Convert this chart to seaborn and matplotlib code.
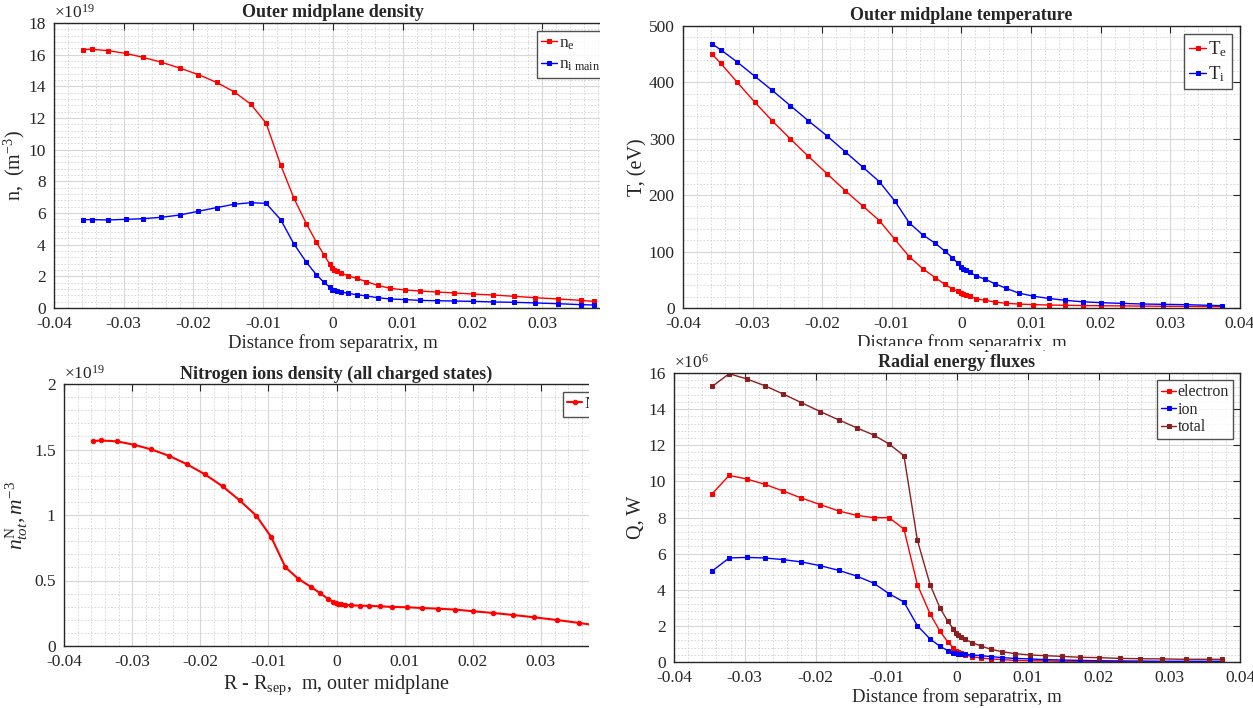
import numpy as np
import pandas as pd
import matplotlib
matplotlib.use("Agg")
import matplotlib.pyplot as plt
import matplotlib.ticker as mticker
from matplotlib.patches import Rectangle
import seaborn as sns

# ---- data ----
# common radial grid, distance from separatrix [m]
dist = [-0.0358, -0.0346, -0.0322, -0.0297, -0.0272, -0.0246, -0.0220, -0.0193,
        -0.0167, -0.0142, -0.0118, -0.0096, -0.0075, -0.0056, -0.0038, -0.0024,
        -0.0013, -0.0005, -0.0001, 0.0002, 0.0006, 0.0012, 0.0021, 0.0034,
        0.0048, 0.0064, 0.0082, 0.0103, 0.0125, 0.0149, 0.0174, 0.0201,
        0.0230, 0.0259, 0.0290, 0.0323, 0.0356, 0.0374]

# outer midplane density, x1e19 m^-3
ne = [16.32, 16.34, 16.25, 16.08, 15.83, 15.52, 15.16, 14.74, 14.25, 13.66,
      12.88, 11.68, 9.03, 6.93, 5.31, 4.17, 3.35, 2.80, 2.51, 2.40, 2.32, 2.21,
      2.04, 1.87, 1.66, 1.43, 1.24, 1.14, 1.07, 1.01, 0.95, 0.88, 0.82, 0.74,
      0.65, 0.57, 0.48, 0.42]
ni_main = [5.58, 5.58, 5.56, 5.60, 5.64, 5.73, 5.87, 6.11, 6.34, 6.55, 6.65,
           6.61, 5.58, 4.04, 2.88, 2.11, 1.62, 1.33, 1.16, 1.12, 1.07, 1.01,
           0.93, 0.84, 0.76, 0.65, 0.57, 0.53, 0.48, 0.46, 0.44, 0.42, 0.38,
           0.36, 0.32, 0.27, 0.21, 0.19]

# outer midplane temperature, eV
Te = [450, 434, 400, 365, 332, 300, 269, 238, 208, 181, 155, 122, 91, 70, 54,
      42, 34, 29.5, 27, 25, 23.6, 20.7, 16.5, 13.6, 10.6, 8.3, 7.0, 6.0, 5.3,
      4.8, 4.3, 4.0, 3.7, 3.4, 3.1, 2.8, 2.5, 2.3]
Ti = [468, 458, 436, 411, 386, 359, 332, 305, 277, 250, 224, 190, 151, 130,
      115, 101, 89, 79, 72, 70, 67, 63, 57, 51, 43, 35, 26.5, 21, 17, 13.6, 11,
      9.4, 8.2, 7.1, 6.5, 5.9, 4.7, 4.1]

# nitrogen ions density (all charged states), x1e19 m^-3
nN = [1.564, 1.569, 1.562, 1.536, 1.501, 1.452, 1.389, 1.310, 1.218, 1.111,
      0.996, 0.833, 0.601, 0.512, 0.453, 0.403, 0.362, 0.339, 0.329, 0.324,
      0.321, 0.316, 0.311, 0.308, 0.306, 0.303, 0.298, 0.296, 0.290, 0.285,
      0.278, 0.265, 0.252, 0.237, 0.219, 0.199, 0.176, 0.163]

# radial energy fluxes, x1e6 W (start at the second grid point)
q_electron = [9.32, 10.33, 10.13, 9.84, 9.47, 9.08, 8.71, 8.36, 8.12, 7.99,
              7.99, 7.36, 4.28, 2.66, 1.70, 1.11, 0.78, 0.63, 0.55, 0.48, 0.39,
              0.30, 0.22, 0.17, 0.13, 0.09, 0.07, 0.06, 0.04, 0.04, 0.03, 0.02,
              0.02, 0.02, 0.02, 0.02, 0.02]
q_ion = [5.04, 5.76, 5.79, 5.76, 5.67, 5.54, 5.33, 5.07, 4.76, 4.37, 3.78, 3.32,
         2.01, 1.27, 0.87, 0.63, 0.52, 0.48, 0.46, 0.44, 0.42, 0.39, 0.35, 0.30,
         0.24, 0.20, 0.17, 0.13, 0.11, 0.09, 0.07, 0.06, 0.05, 0.04, 0.04, 0.04,
         0.04]
q_total = [15.26, 15.96, 15.67, 15.30, 14.84, 14.36, 13.86, 13.40, 12.97, 12.57,
           12.07, 11.42, 6.74, 4.28, 2.99, 2.25, 1.83, 1.59, 1.48, 1.38, 1.25,
           1.07, 0.89, 0.70, 0.57, 0.46, 0.39, 0.35, 0.31, 0.26, 0.24, 0.20,
           0.18, 0.17, 0.15, 0.15, 0.15]

# ---- style ----
sns.set_style("white")
plt.rcParams["font.family"] = ["Liberation Serif", "DejaVu Serif"]
plt.rcParams["mathtext.fontset"] = "custom"
plt.rcParams["mathtext.rm"] = "Liberation Serif"
plt.rcParams["mathtext.it"] = "Liberation Serif:italic"
plt.rcParams["mathtext.bf"] = "Liberation Serif:bold"
plt.rcParams["mathtext.default"] = "regular"
plt.rcParams["axes.unicode_minus"] = False

W, H = 1253, 708
fig = plt.figure(figsize=(W / 100, H / 100), dpi=100)


def px_axes(left, top, right, bottom):
    return fig.add_axes([left / W, 1 - bottom / H, (right - left) / W, (bottom - top) / H])


def xfmt(cropped):
    # left panels are cropped in the reference, the 0.04 label falls off the edge
    def f(v, p):
        if cropped and v > 0.035:
            return ""
        return "%g" % round(v, 4)
    return f


def matlab_look(ax, ymax, ystep, scale=1.0, power=None, cropped=False):
    ax.set_xlim(-0.04, 0.04)
    ax.set_ylim(0, ymax)
    ax.xaxis.set_major_locator(mticker.MultipleLocator(0.01))
    ax.yaxis.set_major_locator(mticker.MultipleLocator(ystep))
    ax.xaxis.set_minor_locator(mticker.AutoMinorLocator(5))
    ax.yaxis.set_minor_locator(mticker.AutoMinorLocator(5))
    ax.xaxis.set_major_formatter(mticker.FuncFormatter(xfmt(cropped)))
    ax.yaxis.set_major_formatter(mticker.FuncFormatter(lambda v, p: "%g" % round(v / scale, 4)))
    ax.grid(True, which="major", color="#d6d6d6", lw=0.8, ls="-")
    ax.grid(True, which="minor", color="#d2d2d2", lw=0.6, ls=(0, (2, 2)))
    ax.set_axisbelow(True)
    ax.tick_params(which="major", direction="in", length=5, width=0.8,
                   top=True, right=True, labelsize=12.5, colors="#262626")
    ax.tick_params(axis="x", pad=6)
    ax.tick_params(axis="y", pad=6)
    ax.tick_params(which="minor", length=0, top=True, right=True)
    for s in ax.spines.values():
        s.set_color("#262626")
        s.set_linewidth(1.0)
        s.set_visible(True)
    if power is not None:
        ax.text(0.0, 1.004, r"$\times$10$^{%d}$" % power, transform=ax.transAxes,
                ha="left", va="bottom", fontsize=12.5, color="#262626")


def line(ax, x, y, color, label, marker="s", ms=2.8, lw=1.0):
    sns.lineplot(x=x, y=y, ax=ax, color=color, lw=lw, marker=marker, markersize=ms,
                 markeredgecolor=color, markerfacecolor=color, label=label,
                 sort=False, estimator=None)


def matlab_legend(ax, size=12.5, spacing=0.3):
    leg = ax.legend(loc="upper right", frameon=True, fancybox=False, fontsize=size,
                    handlelength=0.9, handletextpad=0.1, borderpad=0.25,
                    labelspacing=spacing, borderaxespad=0.45)
    leg.get_frame().set_edgecolor("#262626")
    leg.get_frame().set_linewidth(1.0)
    return leg


title_kw = dict(fontsize=13, fontweight="bold", pad=4)

# --- top left: density ---
ax1 = px_axes(54, 23, 612, 308)
line(ax1, dist, np.array(ne) * 1e19, "red", r"n$_e$")
line(ax1, dist, np.array(ni_main) * 1e19, "blue", r"n$_{i\ main}$")
matlab_look(ax1, 18e19, 2e19, scale=1e19, power=19, cropped=True)
ax1.set_title("Outer midplane density", **title_kw)
ax1.set_xlabel("Distance from separatrix, m", fontsize=13.5, labelpad=1)
ax1.set_ylabel(r"n,  (m$^{-3}$)", fontsize=14.5, labelpad=1)
matlab_legend(ax1)

# --- top right: temperature ---
ax2 = px_axes(683, 26, 1240, 308)
line(ax2, dist, Te, "red", r"T$_e$")
line(ax2, dist, Ti, "blue", r"T$_i$")
matlab_look(ax2, 500, 100)
ax2.set_title("Outer midplane temperature", **title_kw)
ax2.set_xlabel("Distance from separatrix, m", fontsize=13.5, labelpad=1)
ax2.set_ylabel("T, (eV)", fontsize=14.5, labelpad=1)
matlab_legend(ax2, size=13.5)

# --- bottom left: nitrogen ---
ax3 = px_axes(64, 384, 609, 646)
line(ax3, dist, np.array(nN) * 1e19, "red", "N", marker="o", ms=3.2, lw=1.5)
matlab_look(ax3, 2e19, 0.5e19, scale=1e19, power=19, cropped=True)
ax3.set_title("Nitrogen ions density (all charged states)", **title_kw)
ax3.set_xlabel(r"R - R$_{sep}$,  m, outer midplane", fontsize=14.5, labelpad=2)
ax3.set_ylabel(r"$\mathit{n}^{\mathrm{N}}_{\mathit{tot}}, \mathit{m}^{-3}$",
               fontsize=15.5, labelpad=3)
matlab_legend(ax3)

# --- bottom right: energy fluxes ---
ax4 = px_axes(674, 373, 1240, 662)
line(ax4, dist[1:], np.array(q_electron) * 1e6, "red", "electron")
line(ax4, dist[1:], np.array(q_ion) * 1e6, "blue", "ion")
line(ax4, dist[1:], np.array(q_total) * 1e6, "#8b1e1e", "total")
matlab_look(ax4, 16e6, 2e6, scale=1e6, power=6)
ax4.set_title("Radial energy fluxes", **title_kw)
ax4.set_xlabel("Distance from separatrix, m", fontsize=13.5, labelpad=1)
ax4.set_ylabel("Q, W", fontsize=14.5, labelpad=2)
matlab_legend(ax4, size=11.5, spacing=0.1)

# the reference is a collage of cropped panels: mimic the crop edges
def blank(x0, y0, x1, y1):
    fig.add_artist(Rectangle((x0 / W, 1 - y1 / H), (x1 - x0) / W, (y1 - y0) / H,
                             transform=fig.transFigure, facecolor="white",
                             edgecolor="none", zorder=100))

blank(600, 0, 616, 346)
blank(589, 346, 616, H)
blank(616, 346, W, 350)

fig.savefig("out.png", dpi=100)
